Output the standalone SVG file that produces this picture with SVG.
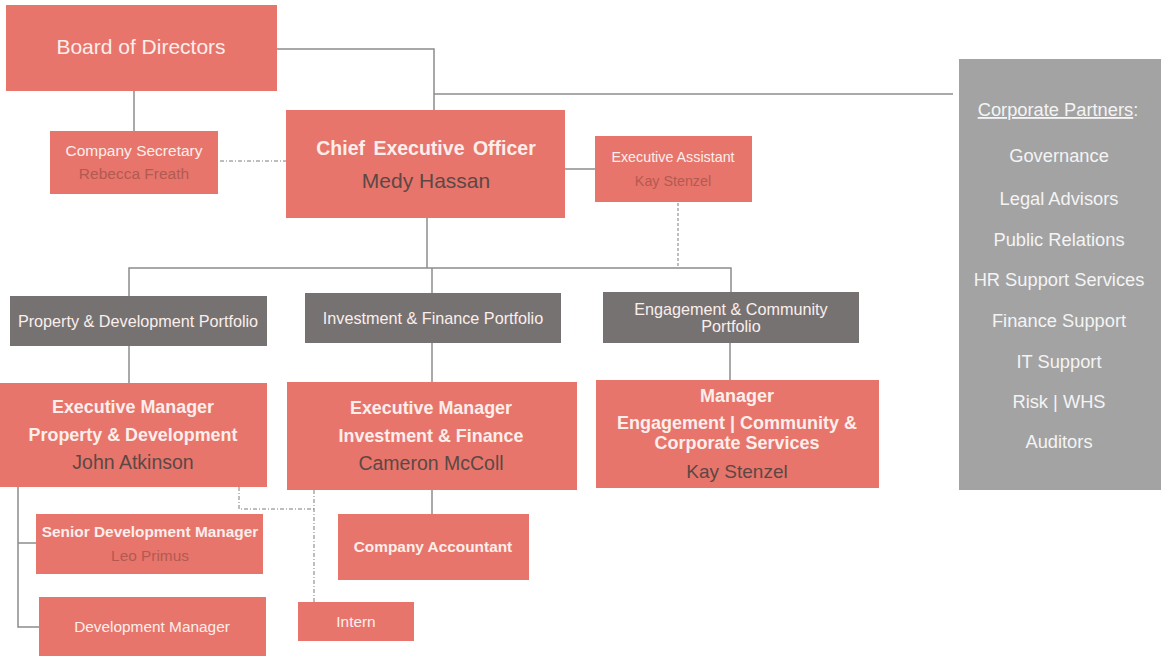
<svg xmlns="http://www.w3.org/2000/svg" width="1161" height="657" viewBox="0 0 1161 657">
  <style>
    .box { fill: #e8756b; }
    .port { fill: #767272; }
    .side { fill: #a3a3a3; }
    .ln { stroke: #8c8c8c; stroke-width: 1.5; fill: none; }
    .dd { stroke: #7d7d7d; stroke-width: 1; fill: none; stroke-dasharray: 4 2 1 2; }
    .dt { stroke: #7d7d7d; stroke-width: 1; fill: none; stroke-dasharray: 3 2; }
    text { font-family: "Liberation Sans", Arial, sans-serif; text-anchor: middle; }
    .w { fill: #fbeeeb; }
    .wb { fill: #fbeeeb; font-weight: bold; }
    .nm { fill: #5b4845; }
    .mu { fill: #b25a52; }
    .pt { fill: #fbeeeb; font-size: 16.2px; }
    .cp { fill: #f4f4f4; font-size: 18.3px; }
  </style>

  <g id="connectors">
    <!-- board to CEO and partners -->
    <polyline class="ln" points="277,49 434,49 434,110"/>
    <line class="ln" x1="434" y1="94" x2="953" y2="94"/>
    <line class="ln" x1="134" y1="91" x2="134" y2="131"/>
    <line class="dd" x1="220" y1="161" x2="286" y2="161"/>
    <line class="ln" x1="565" y1="169" x2="595" y2="169"/>
    <line class="dt" x1="678" y1="203" x2="678" y2="268"/>
    <!-- CEO to portfolios -->
    <line class="ln" x1="427" y1="218" x2="427" y2="268"/>
    <polyline class="ln" points="129,296 129,268 731,268 731,292"/>
    <line class="ln" x1="432" y1="268" x2="432" y2="293"/>
    <!-- portfolios to managers -->
    <line class="ln" x1="129" y1="346" x2="129" y2="383"/>
    <line class="ln" x1="432" y1="343" x2="432" y2="382"/>
    <line class="ln" x1="730" y1="343" x2="730" y2="380"/>
    <!-- property team -->
    <polyline class="ln" points="18,487 18,627 39,627"/>
    <line class="ln" x1="18" y1="543" x2="36" y2="543"/>
    <!-- finance team -->
    <line class="ln" x1="432" y1="490" x2="432" y2="514"/>
    <polyline class="dd" points="239,487 239,509 314,509"/>
    <line class="dd" x1="314" y1="490" x2="314" y2="602"/>
  </g>

  <g id="board">
    <rect class="box" x="6" y="5" width="271" height="86"/>
    <text class="w" x="141" y="54" font-size="21">Board of Directors</text>
  </g>

  <g id="company-secretary">
    <rect class="box" x="50" y="131" width="168" height="63"/>
    <text class="w" x="134" y="156" font-size="15.5">Company Secretary</text>
    <text class="mu" x="134" y="179" font-size="15.5">Rebecca Freath</text>
  </g>

  <g id="ceo">
    <rect class="box" x="286" y="110" width="279" height="108"/>
    <text class="wb" x="426" y="155" font-size="19.5" word-spacing="3">Chief Executive Officer</text>
    <text class="nm" x="426" y="188" font-size="21">Medy Hassan</text>
  </g>

  <g id="executive-assistant">
    <rect class="box" x="595" y="136" width="157" height="66"/>
    <text class="w" x="673" y="162" font-size="14.3">Executive Assistant</text>
    <text class="mu" x="673" y="186" font-size="14.3">Kay Stenzel</text>
  </g>

  <g id="portfolio-property">
    <rect class="port" x="10" y="296" width="257" height="50"/>
    <text class="pt" x="138" y="327">Property &amp; Development Portfolio</text>
  </g>

  <g id="portfolio-investment">
    <rect class="port" x="305" y="293" width="256" height="50"/>
    <text class="pt" x="433" y="324">Investment &amp; Finance Portfolio</text>
  </g>

  <g id="portfolio-engagement">
    <rect class="port" x="603" y="292" width="256" height="51"/>
    <text class="pt" x="731" y="315">Engagement &amp; Community</text>
    <text class="pt" x="731" y="332">Portfolio</text>
  </g>

  <g id="manager-property">
    <rect class="box" x="0" y="383" width="267" height="104"/>
    <text class="wb" x="133" y="413" font-size="17.9">Executive Manager</text>
    <text class="wb" x="133" y="441" font-size="17.9">Property &amp; Development</text>
    <text class="nm" x="133" y="469" font-size="19.5">John Atkinson</text>
  </g>

  <g id="manager-investment">
    <rect class="box" x="287" y="382" width="290" height="108"/>
    <text class="wb" x="431" y="414" font-size="17.9">Executive Manager</text>
    <text class="wb" x="431" y="442" font-size="17.9">Investment &amp; Finance</text>
    <text class="nm" x="431" y="470" font-size="19.5">Cameron McColl</text>
  </g>

  <g id="manager-engagement">
    <rect class="box" x="596" y="380" width="283" height="108"/>
    <text class="wb" x="737" y="402" font-size="18">Manager</text>
    <text class="wb" x="737" y="429" font-size="18">Engagement | Community &amp;</text>
    <text class="wb" x="737" y="449" font-size="18">Corporate Services</text>
    <text class="nm" x="737" y="478" font-size="19">Kay Stenzel</text>
  </g>

  <g id="senior-development-manager">
    <rect class="box" x="36" y="514" width="227" height="60"/>
    <text class="wb" x="150" y="537" font-size="15.4">Senior Development Manager</text>
    <text class="mu" x="150" y="561" font-size="15.4">Leo Primus</text>
  </g>

  <g id="development-manager">
    <rect class="box" x="39" y="597" width="227" height="59"/>
    <text class="w" x="152" y="632" font-size="15.4">Development Manager</text>
  </g>

  <g id="company-accountant">
    <rect class="box" x="338" y="514" width="191" height="66"/>
    <text class="wb" x="433" y="552" font-size="15.4">Company Accountant</text>
  </g>

  <g id="intern">
    <rect class="box" x="298" y="602" width="116" height="39"/>
    <text class="w" x="356" y="627" font-size="15.4">Intern</text>
  </g>

  <g id="corporate-partners">
    <rect class="side" x="959" y="59" width="202" height="431"/>
    <text class="cp" x="1058" y="116" font-size="21.5"><tspan text-decoration="underline">Corporate Partners</tspan>:</text>
    <text class="cp" x="1059" y="162">Governance</text>
    <text class="cp" x="1059" y="205">Legal Advisors</text>
    <text class="cp" x="1059" y="246">Public Relations</text>
    <text class="cp" x="1059" y="286">HR Support Services</text>
    <text class="cp" x="1059" y="327">Finance Support</text>
    <text class="cp" x="1059" y="368">IT Support</text>
    <text class="cp" x="1059" y="408">Risk | WHS</text>
    <text class="cp" x="1059" y="448">Auditors</text>
  </g>
</svg>
